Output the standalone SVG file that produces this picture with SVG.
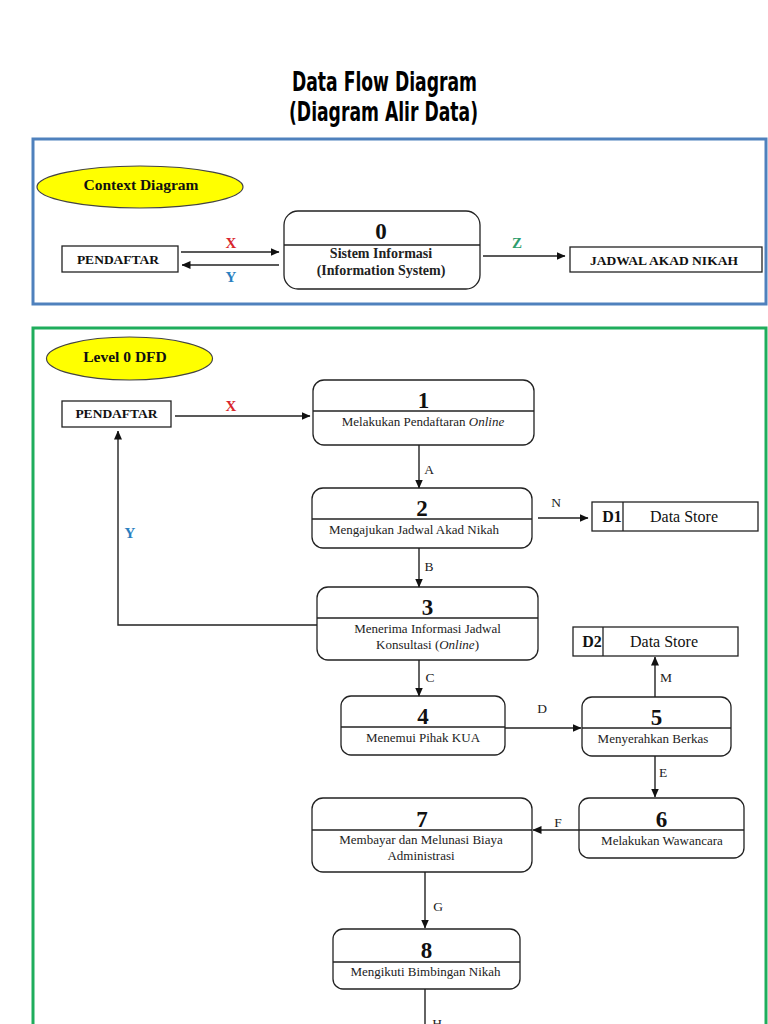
<svg xmlns="http://www.w3.org/2000/svg" width="768" height="1024" viewBox="0 0 768 1024">
<defs>
<marker id="ah" markerWidth="9" markerHeight="8" refX="8.5" refY="4" orient="auto" markerUnits="userSpaceOnUse">
<path d="M0,0 L9,4 L0,8 Z" fill="#111"/>
</marker>
<style>
.frame{fill:none;stroke-width:3}
.proc rect{fill:#fff;stroke:#222;stroke-width:1.3}
.proc line,.store line{stroke:#222;stroke-width:1.3}
.store rect,.ent rect{fill:#fff;stroke:#222;stroke-width:1.3}
.num{font-family:"Liberation Serif","Times New Roman",serif;font-weight:bold;font-size:23px;text-anchor:middle;fill:#111}
.desc{font-family:"Liberation Serif","Times New Roman",serif;font-size:13px;text-anchor:middle;fill:#222}
.descb{font-family:"Liberation Serif","Times New Roman",serif;font-size:14px;font-weight:bold;text-anchor:middle;fill:#222}
.entt{font-family:"Liberation Serif","Times New Roman",serif;font-size:13.5px;font-weight:bold;text-anchor:middle;fill:#111}
.lbl{font-family:"Liberation Serif","Times New Roman",serif;font-size:13.5px;text-anchor:middle;fill:#222}
.flag{font-family:"Liberation Serif","Times New Roman",serif;font-size:15px;font-weight:bold;text-anchor:middle}
.conn path{fill:none;stroke:#222;stroke-width:1.4}
.ell{fill:#ffff00;stroke:#444;stroke-width:1.2}
.elt{font-family:"Liberation Serif","Times New Roman",serif;font-size:15.5px;font-weight:bold;text-anchor:middle;fill:#111}
.title{font-family:"Liberation Sans Narrow","DejaVu Sans Condensed","Liberation Sans",sans-serif;font-weight:bold;font-size:27px;fill:#000}
.ds{font-family:"Liberation Serif","Times New Roman",serif;font-size:16px;fill:#111}
</style>
</defs>
<rect width="768" height="1024" fill="#fff"/>

<g id="title">
<text class="title" x="292" y="91" textLength="185" lengthAdjust="spacingAndGlyphs">Data Flow Diagram</text>
<text class="title" x="289" y="121" textLength="189" lengthAdjust="spacingAndGlyphs">(Diagram Alir Data)</text>
</g>

<!-- Context diagram frame -->
<rect class="frame" x="33" y="139" width="733" height="165" stroke="#4f81bd"/>
<g id="ctx-label">
<ellipse class="ell" cx="140" cy="187" rx="103" ry="21"/>
<text class="elt" x="141" y="190">Context Diagram</text>
</g>
<g id="ctx-pendaftar" class="ent">
<rect x="62" y="246" width="116" height="26"/>
<text class="entt" x="118" y="264">PENDAFTAR</text>
</g>
<g id="ctx-p0" class="proc">
<rect x="284" y="211" width="196" height="78" rx="14"/>
<line x1="284" y1="245" x2="480" y2="245"/>
<text class="num" x="381" y="239">0</text>
<text class="descb" x="381" y="258">Sistem Informasi</text>
<text class="descb" x="381" y="275">(Information System)</text>
</g>
<g id="ctx-jadwal" class="ent">
<rect x="570" y="247" width="192" height="25"/>
<text class="entt" x="664" y="265">JADWAL AKAD NIKAH</text>
</g>

<!-- Level 0 frame -->
<rect class="frame" x="33" y="328" width="733" height="730" stroke="#1fad5c"/>
<g id="l0-label">
<ellipse class="ell" cx="129.5" cy="358.5" rx="83" ry="21.5"/>
<text class="elt" x="125" y="362">Level 0 DFD</text>
</g>
<g id="l0-pendaftar" class="ent">
<rect x="62" y="401" width="109" height="26"/>
<text class="entt" x="116.5" y="418">PENDAFTAR</text>
</g>
<g id="p1" class="proc">
<rect x="313" y="380" width="221" height="65" rx="11"/>
<line x1="313" y1="411" x2="534" y2="411"/>
<text class="num" x="423.5" y="408">1</text>
<text class="desc" x="423" y="426">Melakukan Pendaftaran <tspan font-style="italic">Online</tspan></text>
</g>
<g id="p2" class="proc">
<rect x="312" y="488" width="220" height="60" rx="11"/>
<line x1="312" y1="519" x2="532" y2="519"/>
<text class="num" x="422" y="516">2</text>
<text class="desc" x="414" y="534">Mengajukan Jadwal Akad Nikah</text>
</g>
<g id="d1" class="store">
<rect x="592" y="502" width="166" height="29"/>
<line x1="623" y1="502" x2="623" y2="531"/>
<text class="ds" x="612" y="522" font-weight="bold" text-anchor="middle">D1</text>
<text class="ds" x="684" y="522" text-anchor="middle">Data Store</text>
</g>
<g id="p3" class="proc">
<rect x="317" y="587" width="221" height="73" rx="11"/>
<line x1="317" y1="618" x2="538" y2="618"/>
<text class="num" x="427.5" y="615">3</text>
<text class="desc" x="427.5" y="633">Menerima Informasi Jadwal</text>
<text class="desc" x="427.5" y="649">Konsultasi (<tspan font-style="italic">Online</tspan>)</text>
</g>
<g id="d2" class="store">
<rect x="573" y="627" width="165" height="29"/>
<line x1="603" y1="627" x2="603" y2="656"/>
<text class="ds" x="592" y="647" font-weight="bold" text-anchor="middle">D2</text>
<text class="ds" x="664" y="647" text-anchor="middle">Data Store</text>
</g>
<g id="p4" class="proc">
<rect x="341" y="696" width="164" height="59" rx="10"/>
<line x1="341" y1="727" x2="505" y2="727"/>
<text class="num" x="423" y="724">4</text>
<text class="desc" x="423" y="742">Menemui Pihak KUA</text>
</g>
<g id="p5" class="proc">
<rect x="582" y="697" width="149" height="59" rx="10"/>
<line x1="582" y1="728" x2="731" y2="728"/>
<text class="num" x="656.5" y="725">5</text>
<text class="desc" x="653" y="743">Menyerahkan Berkas</text>
</g>
<g id="p6" class="proc">
<rect x="579" y="798" width="165" height="60" rx="10"/>
<line x1="579" y1="830" x2="744" y2="830"/>
<text class="num" x="661.5" y="827">6</text>
<text class="desc" x="662" y="845">Melakukan Wawancara</text>
</g>
<g id="p7" class="proc">
<rect x="312" y="798" width="220" height="74" rx="11"/>
<line x1="312" y1="830" x2="532" y2="830"/>
<text class="num" x="422" y="827">7</text>
<text class="desc" x="421" y="844">Membayar dan Melunasi Biaya</text>
<text class="desc" x="421" y="860">Administrasi</text>
</g>
<g id="p8" class="proc">
<rect x="333" y="929" width="187" height="60" rx="10"/>
<line x1="333" y1="962" x2="520" y2="962"/>
<text class="num" x="426.5" y="958">8</text>
<text class="desc" x="425.5" y="976">Mengikuti Bimbingan Nikah</text>
</g>

<g id="connectors" class="conn">
<path d="M181,252 H279" marker-end="url(#ah)"/>
<path d="M279,265 H182" marker-end="url(#ah)"/>
<path d="M483,256 H565" marker-end="url(#ah)"/>
<path d="M175,416 H310" marker-end="url(#ah)"/>
<path d="M317,625 H118 V431" marker-end="url(#ah)"/>
<path d="M419,445 V488" marker-end="url(#ah)"/>
<path d="M419,548 V587" marker-end="url(#ah)"/>
<path d="M538,518 H588" marker-end="url(#ah)"/>
<path d="M419,660 V696" marker-end="url(#ah)"/>
<path d="M505,728 H581" marker-end="url(#ah)"/>
<path d="M655,697 V657" marker-end="url(#ah)"/>
<path d="M655,756 V797" marker-end="url(#ah)"/>
<path d="M579,830 H533" marker-end="url(#ah)"/>
<path d="M425,872 V928" marker-end="url(#ah)"/>
<path d="M425,989 V1030"/>
</g>

<g id="flow-labels">
<text class="flag" x="231" y="248" fill="#d9262c">X</text>
<text class="flag" x="231" y="282" fill="#2a7fc0">Y</text>
<text class="flag" x="517" y="248" fill="#2e9e6e">Z</text>
<text class="flag" x="231" y="411" fill="#d9262c">X</text>
<text class="flag" x="130" y="538" fill="#2a7fc0">Y</text>
<text class="lbl" x="429" y="474">A</text>
<text class="lbl" x="429" y="571">B</text>
<text class="lbl" x="556" y="507">N</text>
<text class="lbl" x="430" y="682">C</text>
<text class="lbl" x="542" y="713">D</text>
<text class="lbl" x="666" y="682">M</text>
<text class="lbl" x="663" y="777">E</text>
<text class="lbl" x="558" y="827">F</text>
<text class="lbl" x="438" y="911">G</text>
<text class="lbl" x="437" y="1028">H</text>
</g>
</svg>
